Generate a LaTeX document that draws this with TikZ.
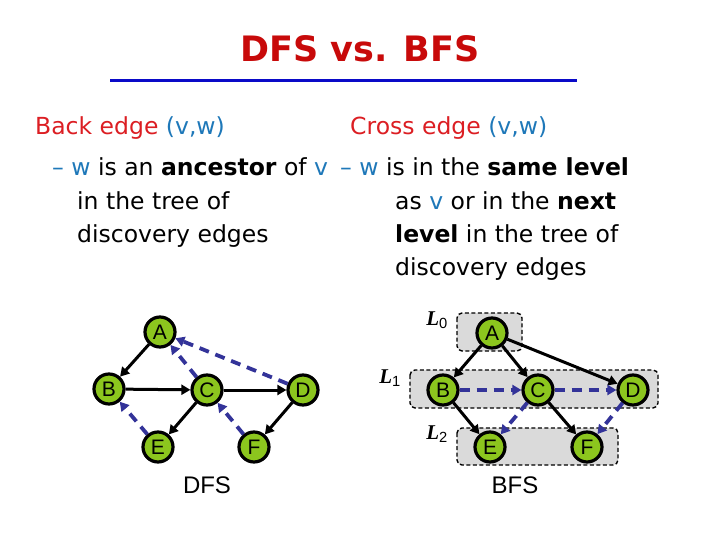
\documentclass[tikz,border=0pt]{standalone}
\usepackage{fontspec}
\setmainfont{DejaVu Sans}
\newfontfamily\nodefont{Liberation Sans}
\newfontfamily\lfont{Liberation Serif}
\usetikzlibrary{arrows.meta}
\definecolor{nodegreen}{RGB}{140,198,30}
\definecolor{edgeblue}{RGB}{51,51,153}
\definecolor{titlered}{RGB}{200,10,10}
\definecolor{textred}{RGB}{220,30,35}
\definecolor{vwblue}{RGB}{30,120,185}
\definecolor{ruleblue}{RGB}{10,10,200}
\definecolor{levelgray}{RGB}{218,218,218}
\newcommand{\vb}[1]{\textcolor{vwblue}{#1}}
\begin{document}
\begin{tikzpicture}[x=1pt,y=-1pt,
  vtx/.style={circle, draw=black, line width=3.2pt, fill=nodegreen, minimum size=30pt, inner sep=0pt, font=\nodefont\fontsize{21}{21}\selectfont},
  tree/.style={-{Triangle[length=9pt,width=10pt]}, line width=3pt, black},
  backe/.style={-{Triangle[length=9pt,width=10pt]}, line width=3.8pt, edgeblue, dash pattern=on 10pt off 7pt},
  levelbox/.style={draw=black, dash pattern=on 4pt off 2.5pt, fill=levelgray, rounded corners=5pt, line width=1.4pt},
  txt/.style={anchor=base west, inner sep=0pt, font=\fontsize{23.5}{23.5}\selectfont},
  lab/.style={inner sep=0pt, font=\lfont\fontsize{21}{21}\selectfont\bfseries\itshape},
  captxt/.style={inner sep=0pt, anchor=base, font=\nodefont\fontsize{24}{24}\selectfont}
]
\useasboundingbox (0,0) rectangle (720,540);
\fill[white] (0,0) rectangle (720,540);

% title
\node[anchor=base, inner sep=0pt, text=titlered, font=\fontsize{35}{35}\selectfont\bfseries] (title) at (360,62) {DFS vs. BFS};
\draw[line width=3pt, ruleblue] (110,81) -- (577,81);

% text
\node[txt] (t1) at (35,135) {\textcolor{textred}{Back edge} \vb{(v,w)}};
\node[txt] (t2) at (52,176) {\vb{– w} is an \textbf{ancestor} of \vb{v}};
\node[txt] (t3) at (77,210) {in the tree of};
\node[txt] (t4) at (77,242) {discovery edges};
\node[txt] (r1) at (350,135) {\textcolor{textred}{Cross edge} \vb{(v,w)}};
\node[txt] (r2) at (340,176) {\vb{– w} is in the \textbf{same level}};
\node[txt] (r3) at (395,210) {as \vb{v} or in the \textbf{next}};
\node[txt] (r4) at (395,242) {\textbf{level} in the tree of};
\node[txt] (r5) at (395,275) {discovery edges};

% DFS
\node[vtx] (dA) at (160,332) {A};
\node[vtx] (dB) at (109,389) {B};
\node[vtx] (dC) at (207,390) {C};
\node[vtx] (dD) at (303,390) {D};
\node[vtx] (dE) at (158,447) {E};
\node[vtx] (dF) at (254,447) {F};
\draw[tree] (dA) -- (dB);
\draw[tree] (dB) -- (dC);
\draw[tree] (dC) -- (dD);
\draw[tree] (dC) -- (dE);
\draw[tree] (dD) -- (dF);
\draw[backe] (dE) -- (dB);
\draw[backe] (dC) -- (dA);
\draw[backe] (dF) -- (dC);
\draw[backe] (dD) -- (dA);
\node[captxt] (dfs) at (207,493) {DFS};

% BFS levels
\draw[levelbox] (457,313) rectangle (522,351);
\draw[levelbox] (410,370) rectangle (658,408);
\draw[levelbox] (457,428) rectangle (618,465);
\node[lab] (L0) at (437,320) {L\textsubscript{\normalfont\nodefont 0}};
\node[lab] (L1) at (390,378) {L\textsubscript{\normalfont\nodefont 1}};
\node[lab] (L2) at (437,434) {L\textsubscript{\normalfont\nodefont 2}};

\node[vtx] (bA) at (492,333) {A};
\node[vtx] (bB) at (443,390) {B};
\node[vtx] (bC) at (538,390) {C};
\node[vtx] (bD) at (633,390) {D};
\node[vtx] (bE) at (490,447) {E};
\node[vtx] (bF) at (587,447) {F};
\draw[tree] (bA) -- (bB);
\draw[tree] (bA) -- (bC);
\draw[tree] (bA) -- (bD);
\draw[tree] (bB) -- (bE);
\draw[tree] (bC) -- (bF);
\draw[backe] (bB) -- (bC);
\draw[backe] (bC) -- (bD);
\draw[backe] (bC) -- (bE);
\draw[backe] (bD) -- (bF);
\node[captxt] (bfs) at (515,493) {BFS};
\end{tikzpicture}
\end{document}
